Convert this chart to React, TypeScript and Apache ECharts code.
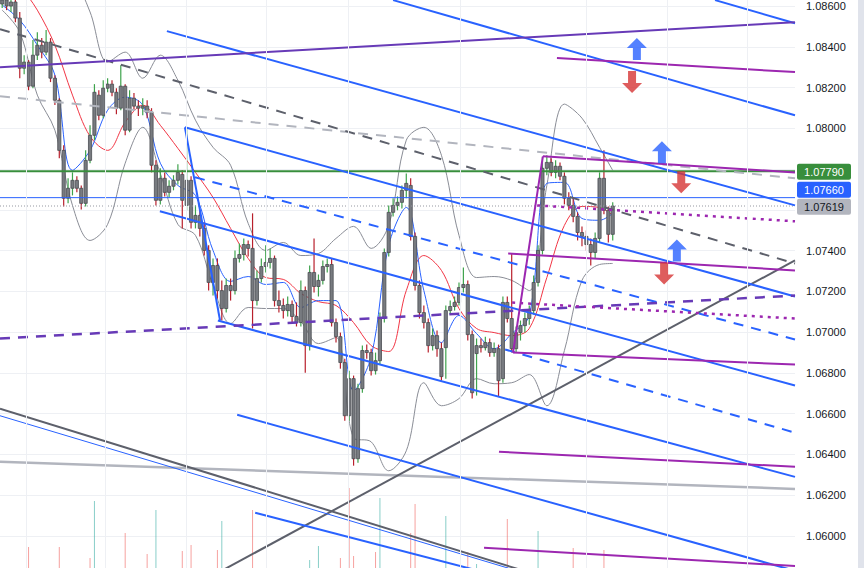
import { useEffect, useRef } from "react";
import * as echarts from "echarts";

// candle slots 0..139, empty future slots up to 180
// [open, close, low, high]
const candles: number[][] = [
  [1.0861, 1.0863, 1.0859, 1.08654],
  [1.0863, 1.086, 1.0858, 1.08669],
  [1.086, 1.0862, 1.08571, 1.08659],
  [1.0862, 1.08541, 1.08521, 1.0863],
  [1.08541, 1.08295, 1.08246, 1.08571],
  [1.08295, 1.08325, 1.08266, 1.08359],
  [1.08325, 1.08207, 1.08187, 1.08335],
  [1.08207, 1.08359, 1.08197, 1.08433],
  [1.08359, 1.08408, 1.08335, 1.08472],
  [1.08408, 1.08374, 1.08344, 1.08443],
  [1.08374, 1.08423, 1.08359, 1.08482],
  [1.08423, 1.08246, 1.08227, 1.08443],
  [1.08246, 1.08138, 1.08114, 1.08261],
  [1.08138, 1.07892, 1.07853, 1.08148],
  [1.07892, 1.07657, 1.07617, 1.07917],
  [1.07657, 1.07706, 1.07632, 1.07755],
  [1.07706, 1.07745, 1.07671, 1.07784],
  [1.07745, 1.07706, 1.07686, 1.07765],
  [1.07706, 1.07632, 1.07602, 1.0772],
  [1.07632, 1.07843, 1.07617, 1.07892],
  [1.07843, 1.07966, 1.07829, 1.08015],
  [1.07966, 1.08177, 1.07942, 1.08217],
  [1.08163, 1.08064, 1.0804, 1.08187],
  [1.08064, 1.08197, 1.0805, 1.08236],
  [1.08197, 1.08217, 1.08177, 1.08246],
  [1.08217, 1.08177, 1.08158, 1.08236],
  [1.08177, 1.08099, 1.08069, 1.08197],
  [1.08099, 1.08207, 1.08089, 1.0831],
  [1.08207, 1.07991, 1.07966, 1.08217],
  [1.07991, 1.08148, 1.07981, 1.08187],
  [1.08148, 1.08109, 1.08089, 1.08173],
  [1.08109, 1.08099, 1.0806, 1.08138],
  [1.08099, 1.08109, 1.08064, 1.08148],
  [1.08109, 1.08079, 1.0805, 1.08138],
  [1.08079, 1.07819, 1.07784, 1.08099],
  [1.07819, 1.07647, 1.07622, 1.07843],
  [1.07647, 1.07755, 1.07627, 1.07804],
  [1.07755, 1.07686, 1.07666, 1.07784],
  [1.07686, 1.07716, 1.07661, 1.07745],
  [1.07716, 1.07745, 1.07696, 1.0777],
  [1.07745, 1.07784, 1.07725, 1.07824],
  [1.07774, 1.07647, 1.07509, 1.07794],
  [1.07622, 1.07745, 1.07598, 1.08001],
  [1.07745, 1.07539, 1.07509, 1.07765],
  [1.07539, 1.07573, 1.07509, 1.07622],
  [1.07573, 1.07509, 1.0747, 1.07598],
  [1.07509, 1.07401, 1.07376, 1.07539],
  [1.07401, 1.07244, 1.07204, 1.07426],
  [1.07244, 1.07327, 1.0718, 1.07362],
  [1.07327, 1.07204, 1.07165, 1.07362],
  [1.07204, 1.07116, 1.07057, 1.07254],
  [1.07116, 1.07229, 1.07096, 1.07263],
  [1.07229, 1.07204, 1.07155, 1.07263],
  [1.07204, 1.07362, 1.07185, 1.07401],
  [1.07362, 1.07381, 1.07342, 1.07435],
  [1.07381, 1.0743, 1.07352, 1.0746],
  [1.0743, 1.07411, 1.07371, 1.0745],
  [1.07411, 1.07155, 1.07018, 1.07583],
  [1.07155, 1.07263, 1.07131, 1.07303],
  [1.07263, 1.07322, 1.07244, 1.07362],
  [1.07322, 1.07342, 1.07293, 1.07426],
  [1.07342, 1.07362, 1.07313, 1.07411],
  [1.07362, 1.07155, 1.07126, 1.07376],
  [1.07155, 1.07131, 1.07096, 1.07204],
  [1.07131, 1.07106, 1.07067, 1.07165],
  [1.07106, 1.07136, 1.07077, 1.07175],
  [1.07136, 1.07077, 1.07047, 1.07155],
  [1.07077, 1.07047, 1.07028, 1.07146],
  [1.07047, 1.07204, 1.07028, 1.07254],
  [1.07204, 1.06934, 1.06801, 1.07224],
  [1.06934, 1.07293, 1.0691, 1.07327],
  [1.07293, 1.07224, 1.07195, 1.0746],
  [1.07224, 1.07254, 1.07175, 1.07283],
  [1.07254, 1.07322, 1.07234, 1.07352],
  [1.07322, 1.07332, 1.07293, 1.07362],
  [1.07332, 1.07047, 1.07028, 1.07362],
  [1.07047, 1.06978, 1.06949, 1.07067],
  [1.06978, 1.06851, 1.06821, 1.06998],
  [1.06851, 1.0659, 1.06566, 1.0687],
  [1.0659, 1.06772, 1.06566, 1.06811],
  [1.06772, 1.06379, 1.06345, 1.06787],
  [1.06379, 1.06723, 1.06359, 1.06747],
  [1.06723, 1.0691, 1.06703, 1.06934],
  [1.0691, 1.069, 1.0687, 1.06939],
  [1.069, 1.06811, 1.06787, 1.06919],
  [1.06811, 1.0686, 1.06792, 1.069],
  [1.0686, 1.07067, 1.06841, 1.07096],
  [1.07067, 1.07391, 1.07047, 1.07411],
  [1.07391, 1.07588, 1.07371, 1.07622],
  [1.07588, 1.07622, 1.07568, 1.07657],
  [1.07622, 1.07637, 1.07598, 1.07666],
  [1.07637, 1.07696, 1.07607, 1.0772],
  [1.07696, 1.0773, 1.07657, 1.07779],
  [1.0772, 1.0747, 1.0745, 1.07755],
  [1.0747, 1.07229, 1.07204, 1.07489],
  [1.07229, 1.07096, 1.07067, 1.07254],
  [1.07096, 1.07047, 1.07018, 1.07131],
  [1.07047, 1.06934, 1.069, 1.07067],
  [1.06934, 1.06983, 1.0691, 1.07018],
  [1.06983, 1.06919, 1.0688, 1.07008],
  [1.06919, 1.06782, 1.06762, 1.06949],
  [1.06924, 1.07106, 1.06772, 1.07131],
  [1.07106, 1.07126, 1.07087, 1.07155],
  [1.07126, 1.07146, 1.07106, 1.07175],
  [1.07146, 1.07219, 1.07131, 1.07244],
  [1.07219, 1.07234, 1.07195, 1.07317],
  [1.07234, 1.06988, 1.06959, 1.07254],
  [1.06988, 1.06703, 1.06674, 1.07008],
  [1.06895, 1.06934, 1.06689, 1.06969],
  [1.06934, 1.06924, 1.069, 1.06969],
  [1.06924, 1.06949, 1.0691, 1.06978],
  [1.06949, 1.069, 1.0688, 1.06969],
  [1.069, 1.06919, 1.0688, 1.06949],
  [1.06919, 1.06762, 1.06684, 1.06939],
  [1.06772, 1.07146, 1.06752, 1.07175],
  [1.07146, 1.07067, 1.07047, 1.07175],
  [1.07067, 1.06919, 1.069, 1.07386],
  [1.06919, 1.06998, 1.069, 1.07028],
  [1.06998, 1.07032, 1.06959, 1.07057],
  [1.07032, 1.07067, 1.06998, 1.07096],
  [1.07067, 1.07106, 1.07037, 1.07131],
  [1.07106, 1.07244, 1.07087, 1.07278],
  [1.07244, 1.07401, 1.07224, 1.07426],
  [1.07401, 1.07804, 1.07381, 1.07858],
  [1.07804, 1.07833, 1.0777, 1.07868],
  [1.07833, 1.07784, 1.07765, 1.07853],
  [1.07784, 1.07814, 1.07755, 1.07843],
  [1.07814, 1.07765, 1.07745, 1.07833],
  [1.07765, 1.07657, 1.07627, 1.07784],
  [1.07657, 1.07622, 1.07598, 1.07686],
  [1.07622, 1.07568, 1.07539, 1.07657],
  [1.07568, 1.07489, 1.0745, 1.07588],
  [1.07489, 1.0747, 1.07421, 1.07519],
  [1.0747, 1.0743, 1.07401, 1.07499],
  [1.0743, 1.07391, 1.07327, 1.0746],
  [1.07391, 1.0746, 1.07362, 1.07489],
  [1.0746, 1.07755, 1.0744, 1.07784],
  [1.07755, 1.07598, 1.07578, 1.07892],
  [1.07598, 1.0748, 1.0744, 1.07617],
  [1.0748, 1.07619, 1.0745, 1.07637],
];

// indicator readings, taken every 4th candle
const bandIndex = [0, 4, 8, 12, 16, 20, 24, 28, 32, 36, 40, 44, 48, 52, 56, 60, 64, 68, 72, 76, 80, 84, 88, 92, 96, 100, 104, 108, 112, 116, 120, 124, 128, 132, 136, 139];
const bbUpper = [1.08752, 1.08777, 1.08826, 1.08826, 1.08752, 1.08571, 1.08325, 1.08374, 1.08246, 1.08359, 1.08236, 1.0804, 1.07907, 1.07819, 1.07534, 1.07401, 1.0744, 1.07376, 1.07386, 1.0746, 1.07519, 1.07411, 1.07524, 1.07942, 1.08005, 1.07868, 1.07475, 1.07268, 1.07273, 1.07254, 1.07204, 1.0772, 1.08119, 1.0805, 1.07907, 1.07794];
const bbLower = [1.0858, 1.08472, 1.08163, 1.07991, 1.07622, 1.0745, 1.07529, 1.07829, 1.08005, 1.07779, 1.07529, 1.07475, 1.07229, 1.07042, 1.07121, 1.07116, 1.07116, 1.07052, 1.06944, 1.06974, 1.06482, 1.06462, 1.0632, 1.06418, 1.06752, 1.06639, 1.06674, 1.06772, 1.06747, 1.06752, 1.06792, 1.06639, 1.0691, 1.07254, 1.07332, 1.07337];
const maSlow = [1.08826, 1.08703, 1.0858, 1.08408, 1.08163, 1.07961, 1.07892, 1.0803, 1.08114, 1.08015, 1.07902, 1.07784, 1.07661, 1.07509, 1.07362, 1.07268, 1.07259, 1.0719, 1.0715, 1.07131, 1.07047, 1.06934, 1.06905, 1.07204, 1.07376, 1.07303, 1.07116, 1.07018, 1.06998, 1.06983, 1.07018, 1.07268, 1.07524, 1.07617, 1.07612, 1.07573];
const maFast = [1.08605, 1.08531, 1.08408, 1.08261, 1.07794, 1.07892, 1.08089, 1.08153, 1.08114, 1.07829, 1.0772, 1.07671, 1.07401, 1.07249, 1.07273, 1.07234, 1.07244, 1.07121, 1.07155, 1.07155, 1.06713, 1.0688, 1.07426, 1.07612, 1.07204, 1.06949, 1.07082, 1.06993, 1.06919, 1.06993, 1.07082, 1.0773, 1.07735, 1.07558, 1.07549, 1.07583];

// [slot, volume]
const volumeUp = [[21, 1670], [35, 1580], [50, 1470], [70, 1080], [72, 1220], [86, 1700], [101, 1520], [108, 1040], [122, 1370]];
const volumeDown = [[6, 1210], [13, 1210], [20, 1100], [28, 1350], [33, 1140], [41, 1170], [43, 1230], [49, 1180], [57, 1580], [77, 1100], [79, 1800], [80, 1120], [85, 1160], [93, 1350], [94, 1640], [106, 1160], [115, 1490], [130, 1200], [137, 1180]];

// drawings: [[slot, price], [slot, price]]
const blueLines = [
  [[89.0, 1.08629], [180.5, 1.08064]],
  [[162.3, 1.08629], [180.5, 1.08516]],
  [[37.5, 1.08477], [180.5, 1.07622]],
  [[41.6, 1.08005], [180.5, 1.07175]],
  [[35.9, 1.07593], [180.5, 1.06738]],
  [[49.1, 1.07057], [180.5, 1.0629]],
  [[53.5, 1.06595], [180.5, 1.05829]],
  [[57.6, 1.06114], [180.5, 1.05426]],
  [[41.6, 1.08005], [49.6, 1.07057]],
];
const blueDashedLines = [
  [[43.9, 1.0776], [180.5, 1.06964]],
  [[114.5, 1.06915], [180.5, 1.06507]],
];
const blueThinLines = [[[-0.5, 1.0659], [118.8, 1.05819]]];
const darkLines = [
  [[-0.5, 1.06625], [122.5, 1.05804]],
  [[50.7, 1.05838], [180.5, 1.07352]],
];
const darkDashedLines = [[[-0.5, 1.08487], [180.5, 1.07337]]];
const lightLines = [[[-0.5, 1.06364], [180.5, 1.06231]]];
const lightDashedLines = [[[-0.5, 1.08158], [180.5, 1.07755]]];
const violetLines = [[[-0.5, 1.083], [180.5, 1.08521]]];
const violetDashedLines = [[[-0.5, 1.06969], [180.5, 1.0718]]];
const purpleLines = [
  [[126.3, 1.08345], [180.5, 1.08276]],
  [[123.1, 1.07863], [180.5, 1.07784]],
  [[116.3, 1.069], [123.1, 1.07863]],
  [[115.2, 1.07386], [180.5, 1.07303]],
  [[116.3, 1.069], [180.5, 1.06841]],
  [[113.1, 1.06413], [180.5, 1.0634]],
  [[109.7, 1.05942], [180.5, 1.05853]],
];
const purpleDottedLines = [
  [[121.8, 1.07622], [180.5, 1.07544]],
  [[116.1, 1.07145], [180.5, 1.07067]],
];
const arrowsUp = [[144.5, 1.08389], [150.2, 1.07883], [153.6, 1.07401]];
const arrowsDown = [[143.4, 1.08227], [154.6, 1.07735], [150.7, 1.07288]];

const greenLevel = 1.0779;
const blueLevel = 1.0766;
const lastPrice = 1.07619;

const timeGrid = [5.4, 23.4, 41.9, 60.1, 78.8, 104.3, 133.0, 151.4, 169.7];

const FONT = '"Liberation Sans", Arial, sans-serif';

const UP_ARROW = "path://M10 0 L20 10 L14 10 L14 22 L6 22 L6 10 L0 10 Z";
const DOWN_ARROW = "path://M6 0 L14 0 L14 12 L20 12 L10 22 L0 12 L6 12 Z";

function segments(lines: number[][][], lineStyle: any, z: number) {
  return lines.map((pts) => ({
    type: "line",
    data: pts,
    symbol: "none",
    silent: true,
    clip: true,
    lineStyle,
    z,
  }));
}

export default function App() {
  const chartRef = useRef<HTMLDivElement>(null);

  useEffect(() => {
    if (!chartRef.current) return;
    const chart = echarts.init(chartRef.current, null, { renderer: "svg" });

    const bandLine = (vals: number[], color: string, z: number) => ({
      type: "line",
      data: bandIndex.map((x, k) => [x, vals[k]]),
      symbol: "none",
      smooth: 0.35,
      silent: true,
      clip: true,
      lineStyle: { color, width: 1 },
      z,
    });

    const level = (price: number, lineStyle: any, z: number) => ({
      type: "line",
      data: [
        [-0.5, price],
        [180.5, price],
      ],
      symbol: "none",
      silent: true,
      clip: true,
      lineStyle,
      z,
    });

    const tagPrices = [greenLevel, blueLevel, lastPrice];

    chart.setOption({
      animation: false,
      backgroundColor: "#ffffff",
      grid: [
        { left: 0, right: 69, top: -34.7, bottom: -8.75, outerBoundsMode: "none", containLabel: false },
        { left: 0, right: 69, top: 0, bottom: -100, outerBoundsMode: "none", containLabel: false },
      ],
      xAxis: [
        { type: "value", gridIndex: 0, min: -0.5, max: 180.5, show: false },
        { type: "value", gridIndex: 1, min: -0.5, max: 180.5, show: false },
      ],
      yAxis: [
        {
          type: "value",
          gridIndex: 0,
          position: "right",
          min: 1.058,
          max: 1.088,
          interval: 0.002,
          axisLine: { show: false },
          axisTick: { show: false },
          axisLabel: {
            color: "#131722",
            fontSize: 11,
            fontFamily: FONT,
            margin: 11,
            // the price tags cover the scale labels next to them;
            // the two outer ticks fall outside the visible pane
            formatter: (v: number) =>
              v < 1.0589 || v > 1.0865 || tagPrices.some((p) => Math.abs(p - v) < 0.0006)
                ? ""
                : v.toFixed(5),
          },
          splitLine: { lineStyle: { color: "#eef0f4", width: 1 } },
        },
        { type: "value", gridIndex: 1, min: 0, max: 6680, show: false },
      ],
      series: [
        {
          type: "line",
          data: [],
          silent: true,
          z: 0,
          markLine: {
            silent: true,
            symbol: "none",
            label: { show: false },
            lineStyle: { color: "#eef0f4", width: 1, type: "solid" },
            data: timeGrid.map((x) => ({ xAxis: x })),
          },
        },
        {
          type: "bar",
          xAxisIndex: 1,
          yAxisIndex: 1,
          data: volumeUp,
          barWidth: 1,
          silent: true,
          itemStyle: { color: "rgba(38,166,154,0.55)" },
          z: 1,
        },
        {
          type: "bar",
          xAxisIndex: 1,
          yAxisIndex: 1,
          data: volumeDown,
          barWidth: 1,
          barGap: "-100%",
          silent: true,
          itemStyle: { color: "rgba(239,83,80,0.55)" },
          z: 1,
        },
        bandLine(bbUpper, "#8a8d96", 2),
        bandLine(bbLower, "#8a8d96", 2),
        bandLine(maSlow, "#f23645", 2),
        bandLine(maFast, "#2962ff", 2),
        {
          type: "custom",
          data: candles.map((c, i) => [i, c[0], c[1], c[2], c[3]]),
          silent: true,
          clip: true,
          z: 3,
          encode: { x: 0, y: [1, 2, 3, 4] },
          renderItem: (_params: any, api: any) => {
            const x = api.value(0);
            const o = api.value(1);
            const c = api.value(2);
            const pO = api.coord([x, o]);
            const pC = api.coord([x, c]);
            const pL = api.coord([x, api.value(3)]);
            const pH = api.coord([x, api.value(4)]);
            const w = api.size([1, 0])[0] * 0.72;
            const top = Math.min(pO[1], pC[1]);
            const h = Math.max(Math.abs(pO[1] - pC[1]), 1);
            return {
              type: "group",
              children: [
                {
                  type: "line",
                  shape: { x1: pL[0], y1: pL[1], x2: pH[0], y2: pH[1] },
                  style: { stroke: c >= o ? "#3fa34d" : "#b8202c", lineWidth: 1.2 },
                },
                {
                  type: "rect",
                  shape: { x: pO[0] - w / 2, y: top, width: w, height: h },
                  style: { fill: "#787b80", stroke: "#4a4c52", lineWidth: 0.8 },
                },
              ],
            };
          },
        },
        level(greenLevel, { color: "#388e3c", width: 2 }, 4),
        level(blueLevel, { color: "#2962ff", width: 1 }, 4),
        level(lastPrice, { color: "#9598a1", width: 1, type: [1, 2] }, 4),
        ...segments(lightLines, { color: "#b2b5be", width: 2.5 }, 4),
        ...segments(lightDashedLines, { color: "#b2b5be", width: 2, type: [10, 8] }, 4),
        ...segments(darkLines, { color: "#5d606b", width: 2 }, 4),
        ...segments(darkDashedLines, { color: "#5d606b", width: 2, type: [10, 8] }, 4),
        ...segments(blueThinLines, { color: "#2962ff", width: 1 }, 4),
        ...segments(blueLines, { color: "#2962ff", width: 2 }, 4),
        ...segments(blueDashedLines, { color: "#2962ff", width: 2, type: [10, 8] }, 4),
        ...segments(violetLines, { color: "#673ab7", width: 2 }, 4),
        ...segments(violetDashedLines, { color: "#673ab7", width: 2.5, type: [10, 8] }, 4),
        ...segments(purpleLines, { color: "#9c27b0", width: 2 }, 4),
        ...segments(purpleDottedLines, { color: "#9c27b0", width: 2.5, type: [3, 5] }, 4),
        {
          type: "scatter",
          data: arrowsUp,
          symbol: UP_ARROW,
          symbolSize: [20, 22],
          silent: true,
          itemStyle: { color: "#2962ff" },
          z: 5,
        },
        {
          type: "scatter",
          data: arrowsDown,
          symbol: DOWN_ARROW,
          symbolSize: [20, 22],
          silent: true,
          itemStyle: { color: "#d63434" },
          z: 5,
        },
      ],
    });

    // price tags on the scale; the blue one is pushed up so it doesn't overlap
    const tags = [
      { price: greenLevel, bg: "#388e3c", fg: "#ffffff", shift: 0.5 },
      { price: blueLevel, bg: "#2962ff", fg: "#ffffff", shift: -8 },
      { price: lastPrice, bg: "#b2b5be", fg: "#131722", shift: 0.8 },
    ];
    const tagElements = tags.map((t) => {
      const y = (chart.convertToPixel({ yAxisIndex: 0 }, t.price) as number) + t.shift;
      return {
        type: "group",
        z: 100,
        children: [
          {
            type: "rect",
            shape: { x: 797, y: y - 8, width: 54, height: 16, r: 2 },
            style: { fill: t.bg },
          },
          {
            type: "text",
            style: {
              x: 824,
              y,
              text: t.price.toFixed(5),
              align: "center",
              verticalAlign: "middle",
              fill: t.fg,
              font: `11px ${FONT}`,
            },
          },
        ],
      };
    });

    chart.setOption({
      graphic: [
        ...tagElements,
        {
          type: "rect",
          z: 100,
          shape: { x: 858, y: 0, width: 6, height: 568 },
          style: { fill: "#e0e3eb" },
        },
      ],
    });

    return () => {
      chart.dispose();
    };
  }, []);

  return (
    <div
      ref={chartRef}
      style={{ position: "fixed", left: 0, top: 0, width: 864, height: 568 }}
    />
  );
}
